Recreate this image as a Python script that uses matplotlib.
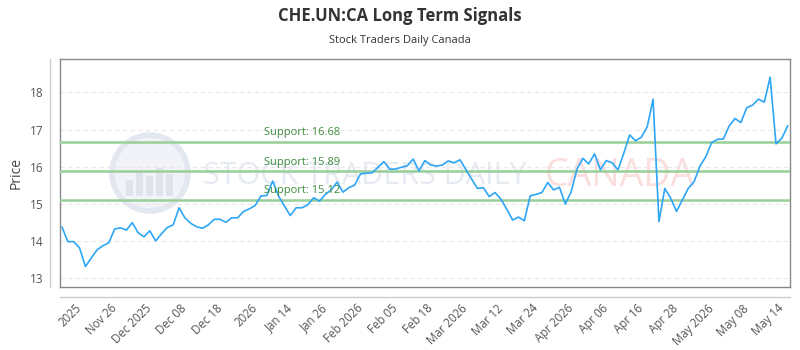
import matplotlib
matplotlib.use("Agg")
import matplotlib.pyplot as plt
import numpy as np
from matplotlib.lines import Line2D
from matplotlib.patches import Circle, Rectangle
import matplotlib.transforms as mtransforms

# ---- data ----
title = "CHE.UN:CA Long Term Signals"
subtitle = "Stock Traders Daily Canada"
prices = [14.38, 13.99, 13.99, 13.82, 13.32, 13.55, 13.77, 13.88, 13.96, 14.33,
          14.36, 14.30, 14.50, 14.23, 14.12, 14.28, 14.01, 14.20, 14.37, 14.44,
          14.90, 14.63, 14.48, 14.39, 14.35, 14.44, 14.59, 14.59, 14.51, 14.63,
          14.63, 14.80, 14.87, 14.96, 15.22, 15.23, 15.62, 15.22, 14.95, 14.69,
          14.90, 14.90, 14.98, 15.17, 15.08, 15.26, 15.38, 15.59, 15.32, 15.44,
          15.51, 15.81, 15.83, 15.84, 15.99, 16.14, 15.94, 15.94, 15.99, 16.03,
          16.21, 15.89, 16.17, 16.05, 16.02, 16.05, 16.16, 16.11, 16.19, 15.93,
          15.67, 15.42, 15.44, 15.20, 15.31, 15.13, 14.86, 14.57, 14.65, 14.55,
          15.22, 15.26, 15.31, 15.58, 15.38, 15.45, 15.00, 15.33, 15.94, 16.23,
          16.08, 16.35, 15.92, 16.17, 16.11, 15.92, 16.37, 16.86, 16.70, 16.80,
          17.08, 17.82, 14.53, 15.42, 15.16, 14.80, 15.11, 15.42, 15.60, 16.02,
          16.27, 16.65, 16.74, 16.75, 17.10, 17.30, 17.19, 17.59, 17.66, 17.82,
          17.74, 18.41, 16.62, 16.77, 17.10]
tick_labels = ["2025", "Nov 26", "Dec 2025", "Dec 08", "Dec 18", "2026", "Jan 14",
               "Jan 26", "Feb 2026", "Feb 05", "Feb 18", "Mar 2026", "Mar 12",
               "Mar 24", "Apr 2026", "Apr 06", "Apr 16", "Apr 28", "May 2026",
               "May 08", "May 14"]
supports = [16.68, 15.89, 15.12]
y_ticks = [13, 14, 15, 16, 17, 18]

FONT = ["Open Sans", "DejaVu Sans"]
plt.rcParams['font.family'] = FONT

W, H = 800, 350
fig = plt.figure(figsize=(W / 100, H / 100), dpi=100)
L, R, T, B = 60, 790, 59, 287
ax = fig.add_axes([L / W, 1 - B / H, (R - L) / W, (B - T) / H])

x = np.arange(len(prices))
tick_pos = x[3::6][:len(tick_labels)]

# watermark
wm_ax = fig.add_axes([0, 0, 1, 1], zorder=-1)
wm_ax.set_xlim(0, W)
wm_ax.set_ylim(H, 0)
wm_ax.axis("off")
wm_ax.add_patch(Circle((150, 173), 38, facecolor="#f1f3f8", edgecolor="#e3e8f0", lw=4))
for bx, bh in [(126, 16), (136, 24), (146, 20), (156, 28), (166, 22)]:
    wm_ax.add_patch(Rectangle((bx, 196 - bh), 7, bh, facecolor="#dfe4ec", edgecolor="none"))
wm_ax.text(203, 176, "STOCK TRADERS DAILY", fontsize=22, color="#e6ebf2",
           ha="left", va="center")
wm_ax.text(545, 176, "CANADA", fontsize=27, color="#fbdede",
           ha="left", va="center")
ax.patch.set_alpha(0)

ax.plot(x, prices, color="#2ea6f6", lw=1.2, zorder=4)

trans = mtransforms.blended_transform_factory(ax.transAxes, ax.transData)
for s in supports:
    ax.axhline(s, color="#98cf98", lw=1.8, zorder=3)
    ax.text((264 - L) / (R - L), s + 0.09, f"Support: {s:.2f}", transform=trans,
            color="#3d8b3d", fontsize=8, ha="left", va="bottom", zorder=5)

ax.set_xlim(-2 / 5.853, 124 + 2.3 / 5.853)
ax.set_ylim(12.77, 18.90)
ax.set_yticks(y_ticks)
ax.set_yticklabels([str(v) for v in y_ticks])
ax.set_xticks(tick_pos)
ax.set_xticklabels(tick_labels, rotation=45, ha="right", va="center",
                   rotation_mode="anchor")
ax.tick_params(axis="y", length=0, pad=12, labelsize=8.5, labelcolor="#555555")
ax.tick_params(axis="x", length=0, pad=14, labelsize=8.3, labelcolor="#555555")
ax.grid(axis="y", color="#e8e8e8", lw=0.8, ls=(0, (4, 3)))
ax.set_axisbelow(True)
for sp in ax.spines.values():
    sp.set_color("#888888")
    sp.set_linewidth(1.0)

fig.text(16 / W, 1 - 173 / H, "Price", rotation=90, ha="center", va="center",
         fontsize=10, color="#444444")

# offset axis lines
fig.add_artist(Line2D([50 / W, 50 / W], [1 - 59 / H, 1 - 287 / H], color="#cccccc", lw=1))
fig.add_artist(Line2D([60 / W, 790 / W], [1 - 296.5 / H, 1 - 296.5 / H], color="#cccccc", lw=1))

fig.text(0.5, 1 - 16 / H, title, ha="center", va="center", fontsize=12,
         fontweight="bold", color="#333333")
fig.text(0.5, 1 - 41 / H, subtitle, ha="center", va="center", fontsize=8,
         color="#333333")

fig.savefig("out.png", dpi=100)
